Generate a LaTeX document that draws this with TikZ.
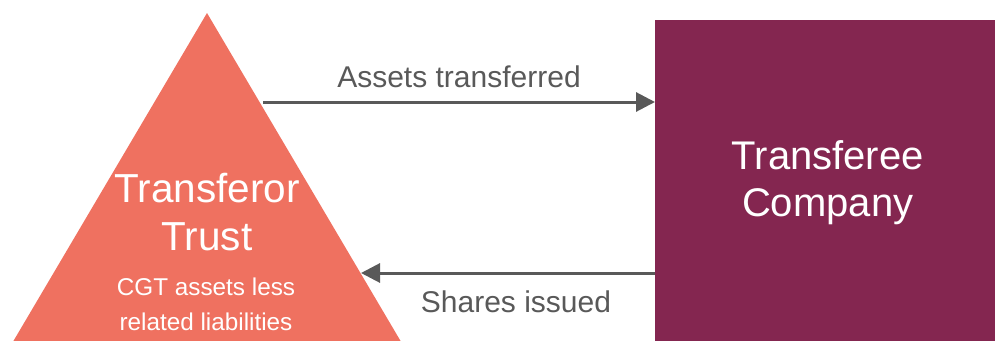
\documentclass[tikz,border=0pt]{standalone}
\usepackage{fontspec}
\setmainfont{Liberation Sans}
\usetikzlibrary{arrows.meta}
\definecolor{trustcol}{HTML}{EF7160}
\definecolor{compcol}{HTML}{842650}
\definecolor{arrcol}{HTML}{595959}
\tikzset{
  conn/.style={draw=arrcol, line width=3pt, -{Triangle[length=19pt,width=19pt]}},
  lbl/.style={text=arrcol, font=\fontsize{30}{36}\selectfont, inner sep=0pt},
  wtxt/.style={text=white, align=center, inner sep=0pt}
}
\begin{document}
\begin{tikzpicture}[x=1pt,y=-1pt]
\useasboundingbox (0,0) rectangle (995,340);
\clip (0,0) rectangle (995,340);
% triangle
\fill[trustcol] (207,13) -- (423.6,380) -- (-9.6,380) -- cycle;
% company box
\node[fill=compcol, minimum width=345pt, minimum height=325pt, anchor=north west, inner sep=0pt,
      text=white, align=center, font=\fontsize{40}{47}\selectfont] (company) at (655,20) {Transferee\\Company};
% trust texts
\node[wtxt, font=\fontsize{40.5}{48}\selectfont, anchor=base] (trust) at (207,250) {Transferor\\Trust};
\node[wtxt, font=\fontsize{24.3}{35}\selectfont, anchor=base] (trustsub) at (206,330) {CGT assets less\\related liabilities};
% connectors
\coordinate (a1) at (263,102);
\coordinate (b2) at (361,273);
\draw[conn] (a1) -- (company.west |- a1);
\draw[conn] (company.west |- b2) -- (b2);
\node[lbl, anchor=base] (lab1) at (459,87) {Assets transferred};
\node[lbl, anchor=base] (lab2) at (516,312) {Shares issued};
\end{tikzpicture}
\end{document}
